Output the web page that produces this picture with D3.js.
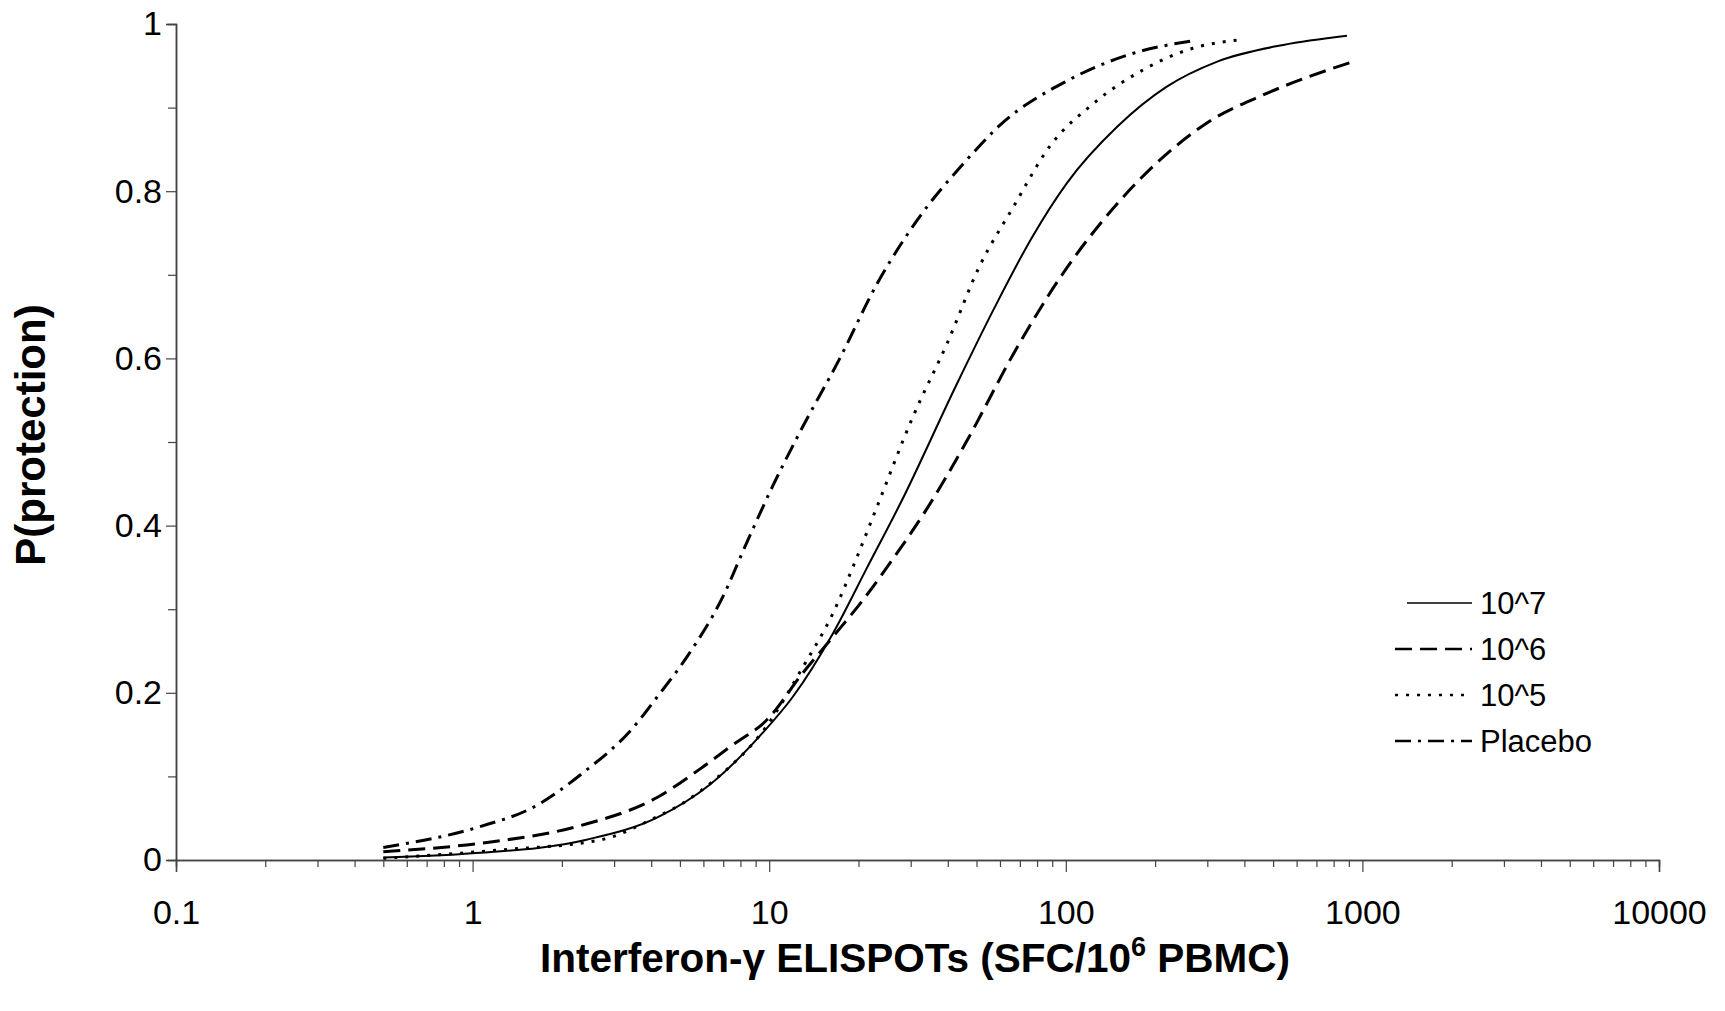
<!DOCTYPE html>
<html>
<head>
<meta charset="utf-8">
<script src="https://cdn.jsdelivr.net/npm/d3@7"></script>
<style>
  body { margin: 0; background: #fff; }
  svg { display: block; font-family: "Liberation Sans", Arial, Helvetica, sans-serif; }
</style>
</head>
<body>
<svg width="1725" height="1011"></svg>
<script>
// series: SFC per 10^6 PBMC -> P(protection)
const x_e7 = [0.5, 1, 2.4, 4.2, 6.3, 9.5, 12, 16.4, 21.4, 28, 43, 57, 77, 101, 149, 219, 324, 541, 887];
const p_e7 = [0.003, 0.008, 0.024, 0.051, 0.09, 0.152, 0.195, 0.271, 0.35, 0.43, 0.57, 0.658, 0.745, 0.81, 0.877, 0.925, 0.955, 0.975, 0.986];

const x_e6 = [0.5, 1.06, 2.3, 4.2, 5.85, 7.55, 9.85, 13, 16.4, 20.7, 26, 34, 46.5, 66.5, 95, 149, 237, 300, 476, 929];
const p_e6 = [0.01, 0.02, 0.041, 0.075, 0.109, 0.138, 0.168, 0.224, 0.267, 0.311, 0.359, 0.42, 0.502, 0.605, 0.695, 0.785, 0.855, 0.882, 0.917, 0.955];

const x_e5 = [0.5, 1.24, 2.7, 4.2, 4.9, 6.5, 9.8, 13, 16.4, 19.8, 23, 30.5, 39.8, 51, 66.5, 88, 124, 182, 268, 386];
const p_e5 = [0.002, 0.012, 0.024, 0.052, 0.064, 0.095, 0.16, 0.231, 0.295, 0.363, 0.421, 0.53, 0.618, 0.709, 0.781, 0.853, 0.905, 0.945, 0.971, 0.981];

const x_pl = [0.5, 1.06, 1.6, 2.35, 3.47, 4.19, 5.28, 6.98, 8.41, 10.3, 12.7, 17.3, 23, 31.5, 46.5, 60, 101, 169, 269];
const p_pl = [0.015, 0.04, 0.063, 0.104, 0.158, 0.195, 0.243, 0.315, 0.38, 0.448, 0.512, 0.6, 0.688, 0.765, 0.838, 0.879, 0.932, 0.965, 0.98];

const seriesNames = ["10^7", "10^6", "10^5", "Placebo"];
const xTicks = [0.1, 1, 10, 100, 1000, 10000];
const yTicks = [0, 0.2, 0.4, 0.6, 0.8, 1];

var svg = d3.select("svg");

var x = d3.scaleLog()
    .domain([0.1, 10000])
    .range([176, 1659]);

var y = d3.scaleLinear()
    .domain([0, 1])
    .range([860, 24]);

var series = [
    { name: seriesNames[0], xs: x_e7, ps: p_e7, dash: null, width: 2 },
    { name: seriesNames[1], xs: x_e6, ps: p_e6, dash: "17,8", width: 3 },
    { name: seriesNames[2], xs: x_e5, ps: p_e5, dash: "3,8", width: 3 },
    { name: seriesNames[3], xs: x_pl, ps: p_pl, dash: "16,7,3,7", width: 3 }
];

// minor ticks
var xMinor = [];
for (let e = -1; e < 4; ++e) {
    for (let m = 2; m < 10; ++m) xMinor.push(m * Math.pow(10, e));
}
var yMinor = d3.range(0.1, 1, 0.2);

svg.append("g")
    .attr("class", "x minor")
    .attr("transform", "translate(0,860)")
    .call(d3.axisBottom(x).tickValues(xMinor).tickSize(7).tickFormat(""));

svg.append("g")
    .attr("class", "x axis")
    .attr("transform", "translate(0,860)")
    .call(d3.axisBottom(x).tickValues(xTicks).tickSize(12).tickPadding(28)
        .tickFormat(d => String(d)));

svg.append("g")
    .attr("class", "y minor")
    .attr("transform", "translate(176,0)")
    .call(d3.axisLeft(y).tickValues(yMinor).tickSize(8).tickFormat(""));

svg.append("g")
    .attr("class", "y axis")
    .attr("transform", "translate(176,0)")
    .call(d3.axisLeft(y).tickValues(yTicks).tickSize(10).tickPadding(4)
        .tickFormat(d => String(d)));

svg.selectAll(".domain").attr("stroke", "#444").attr("stroke-width", 1.5);
svg.selectAll(".tick line").attr("stroke", "#444").attr("stroke-width", 1.2);
svg.selectAll(".axis .tick text")
    .attr("fill", "#000")
    .style("font-size", "34px");

// curves
var line = d3.line()
    .x(d => x(d[0]))
    .y(d => y(d[1]))
    .curve(d3.curveMonotoneX);

svg.append("g")
    .selectAll("path")
    .data(series)
    .enter().append("path")
    .attr("d", s => line(s.xs.map((v, i) => [v, s.ps[i]])))
    .attr("fill", "none")
    .attr("stroke", "#000")
    .attr("stroke-width", s => s.width)
    .attr("stroke-dasharray", s => s.dash);

// legend
var legend = svg.append("g")
    .selectAll("g")
    .data(series)
    .enter().append("g")
    .attr("transform", (s, i) => "translate(0," + (603 + i * 46) + ")");

legend.append("line")
    .attr("x1", (s, i) => i === 0 ? 1407 : 1395)
    .attr("x2", 1472)
    .attr("stroke", "#000")
    .attr("stroke-width", s => s.width - 0.5)
    .attr("stroke-dasharray", s => s.dash);

legend.append("text")
    .attr("x", 1480)
    .attr("dy", "0.35em")
    .style("font-size", "31px")
    .text(s => s.name);

// axis titles
svg.append("text")
    .attr("x", 915)
    .attr("y", 972)
    .attr("text-anchor", "middle")
    .style("font-size", "40.5px")
    .style("font-weight", "bold")
    .html('Interferon-γ ELISPOTs (SFC/10<tspan dy="-16" font-size="27px">6</tspan><tspan dy="16"> PBMC)</tspan>');

svg.append("text")
    .attr("transform", "translate(45,435) rotate(-90)")
    .attr("text-anchor", "middle")
    .style("font-size", "42px")
    .style("font-weight", "bold")
    .text("P(protection)");
</script>
</body>
</html>
